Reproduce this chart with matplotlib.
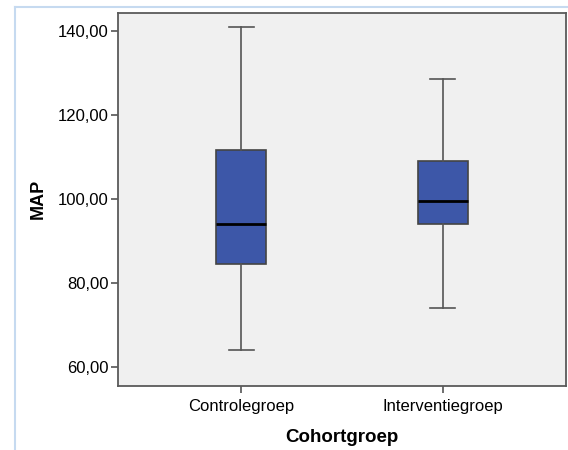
#!/usr/bin/env python3
"""SPSS-style boxplot of MAP per cohort group."""

import matplotlib
matplotlib.use("Agg")
import matplotlib.pyplot as plt
from matplotlib.lines import Line2D
from matplotlib import ticker

# Data
groups = ["Controlegroep", "Interventiegroep"]
whisker_low = [64.0, 74.0]
q1 = [84.5, 94.0]
median = [94.0, 99.5]
q3 = [111.7, 109.0]
whisker_high = [141.0, 128.5]
y_ticks = [60, 80, 100, 120, 140]

plt.rcParams['font.family'] = ['Liberation Sans', 'DejaVu Sans']

fig = plt.figure(figsize=(5.68, 4.5), dpi=100, facecolor='white')
ax = fig.add_axes([118 / 568, 1 - 386 / 450, 448 / 568, 373.5 / 450])
ax.set_facecolor('#f0f0f0')

stats = []
for i, name in enumerate(groups):
    stats.append({
        'label': name,
        'whislo': whisker_low[i],
        'q1': q1[i],
        'med': median[i],
        'q3': q3[i],
        'whishi': whisker_high[i],
        'fliers': [],
    })

ax.bxp(stats, positions=[1, 2], widths=0.25, patch_artist=True,
       showfliers=False,
       boxprops=dict(facecolor='#3d57a8', edgecolor='#444444', linewidth=1.2),
       medianprops=dict(color='black', linewidth=2),
       whiskerprops=dict(color='#555555', linewidth=1.2),
       capprops=dict(color='#555555', linewidth=1.2),
       capwidths=0.123)

ax.set_xlim(0.39, 2.61)
ax.set_ylim(55.5, 144.45)
ax.set_yticks(y_ticks)
ax.yaxis.set_major_formatter(ticker.FuncFormatter(lambda v, p: f"{v:.2f}".replace('.', ',')))
ax.tick_params(axis='both', labelsize=12, length=5, width=1.2, color='#555555',
               labelcolor='black')
ax.tick_params(axis='x', pad=4)
ax.tick_params(axis='y', pad=2)

ax.set_xlabel('Cohortgroep', fontsize=13.5, fontweight='bold', labelpad=11)
ax.set_ylabel('MAP', fontsize=13, fontweight='bold', labelpad=8)

for spine in ax.spines.values():
    spine.set_color('#5a5a5a')
    spine.set_linewidth(1.3)

# light blue frame from the original screenshot
frame_color = '#c6daf0'
fig.add_artist(Line2D([15 / 568, 1], [1 - 7 / 450, 1 - 7 / 450],
                      transform=fig.transFigure, color=frame_color, linewidth=1.5))
fig.add_artist(Line2D([15 / 568, 15 / 568], [0, 1 - 7 / 450],
                      transform=fig.transFigure, color=frame_color, linewidth=1.5))

fig.savefig('out.png', dpi=100, facecolor='white')
plt.close(fig)
